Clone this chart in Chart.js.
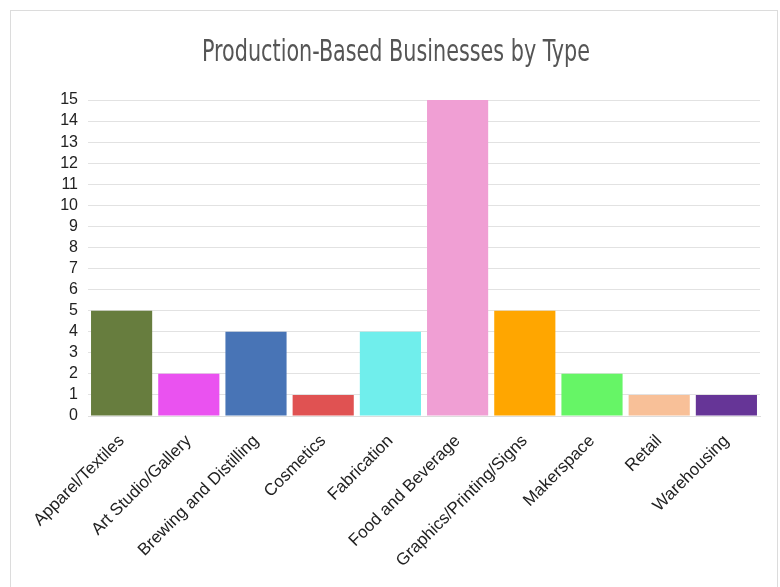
<!DOCTYPE html>
<html>
<head>
<meta charset="utf-8">
<script src="https://cdn.jsdelivr.net/npm/chart.js@4"></script>
<style>
  body { margin: 0; background: #fff; }
  #wrap { position: relative; width: 780px; height: 587px; }
  #frame { position: absolute; left: 10px; top: 10px; width: 766px; height: 590px; border: 1px solid #dcdcdc; pointer-events: none; }
</style>
</head>
<body>
<div id="wrap">
  <canvas id="bizChart" width="780" height="587"></canvas>
  <div id="frame"></div>
</div>
<script>
var chartTitle = 'Production-Based Businesses by Type';
var categories = ['Apparel/Textiles', 'Art Studio/Gallery', 'Brewing and Distilling', 'Cosmetics', 'Fabrication',
                  'Food and Beverage', 'Graphics/Printing/Signs', 'Makerspace', 'Retail', 'Warehousing'];
var counts = [5, 2, 4, 1, 4, 15, 5, 2, 1, 1];
var barColors = ['#677d3e', '#ea52f0', '#4874b6', '#e05252', '#70eeec', '#f09fd4', '#ffa600', '#66f566', '#f8c098', '#663597'];
var yTicks = [0, 15];

// the title font is a tall condensed face, so draw it squeezed
var condensedTitle = {
    id: 'condensedTitle',
    afterDraw: function(chart) {
        var c = chart.ctx;
        c.save();
        c.font = '31px "DejaVu Sans Condensed", "DejaVu Sans", sans-serif';
        c.fillStyle = '#555';
        c.textAlign = 'center';
        c.textBaseline = 'middle';
        var w = c.measureText(chartTitle).width;
        var sx = 388 / w;
        c.translate(396, 53);
        c.scale(sx, 1);
        c.fillText(chartTitle, 0, 0);
        c.restore();
    }
};

var ctx = document.getElementById('bizChart').getContext('2d');
var myChart = new Chart(ctx, {
    type: 'bar',
    data: {
        labels: categories,
        datasets: [{
            label: 'Businesses',
            data: counts,
            backgroundColor: barColors,
            borderWidth: 0,
            categoryPercentage: 1.0,
            barPercentage: 0.91
        }]
    },
    plugins: [condensedTitle],
    options: {
        responsive: false,
        animation: false,
        layout: { padding: { left: 40, right: 20, top: 100, bottom: 11 } },
        plugins: {
            legend: { display: false },
            tooltip: { enabled: false },
            title: { display: false }
        },
        scales: {
            x: {
                grid: { display: false },
                border: { color: '#dddddd' },
                ticks: {
                    color: '#222',
                    font: { family: 'Arial, "Liberation Sans"', size: 17 },
                    minRotation: 45,
                    maxRotation: 45,
                    autoSkip: false,
                    padding: 7
                },
                afterFit: function(scale) { scale.height = 160; }
            },
            y: {
                min: yTicks[0],
                max: yTicks[1],
                grid: { color: '#e2e2e2', drawTicks: false },
                border: { display: false },
                ticks: {
                    stepSize: 1,
                    autoSkip: false,
                    padding: 10,
                    color: '#222',
                    font: { family: 'Arial, "Liberation Sans"', size: 16 }
                },
                afterFit: function(scale) { scale.width = 48; }
            }
        }
    }
});
</script>
</body>
</html>
